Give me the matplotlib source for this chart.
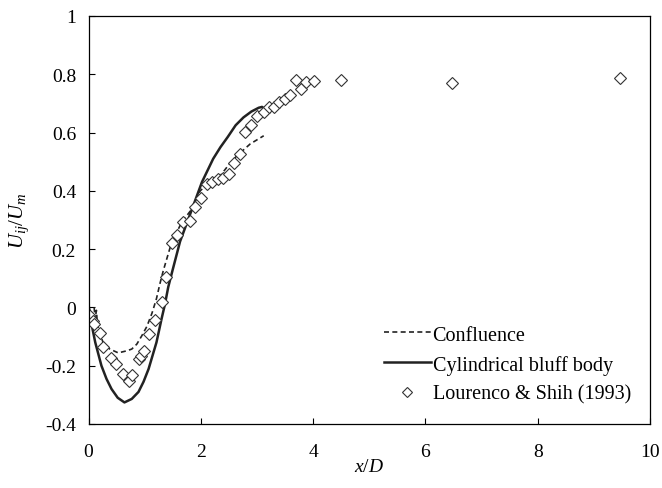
import matplotlib
matplotlib.use("Agg")
import matplotlib.pyplot as plt

# --- data ---
conf_x = [0.10, 0.12, 0.14, 0.16, 0.20, 0.26, 0.38, 0.53, 0.68, 0.77, 0.86, 0.95,
          1.04, 1.13, 1.21, 1.27, 1.33, 1.48, 1.66, 1.81, 1.99, 2.15, 2.34, 2.50,
          2.64, 2.88, 3.12]
conf_y = [0.00, -0.04, -0.01, -0.06, -0.09, -0.12, -0.143, -0.156, -0.149, -0.143,
          -0.126, -0.097, -0.065, -0.02, 0.03, 0.08, 0.125, 0.223, 0.292, 0.33,
          0.40, 0.43, 0.45, 0.49, 0.52, 0.561, 0.589]

cyl_x = [0.00, 0.03, 0.06, 0.12, 0.23, 0.32, 0.41, 0.52, 0.64, 0.77, 0.89, 0.98,
         1.07, 1.21, 1.30, 1.36, 1.42, 1.50, 1.63, 1.81, 2.02, 2.22, 2.35, 2.48,
         2.62, 2.76, 2.90, 3.03, 3.09, 3.13]
cyl_y = [0.01, -0.03, -0.063, -0.12, -0.20, -0.245, -0.28, -0.31, -0.326, -0.314,
         -0.29, -0.255, -0.211, -0.12, -0.04, 0.01, 0.07, 0.13, 0.226, 0.32, 0.43,
         0.51, 0.55, 0.585, 0.625, 0.652, 0.672, 0.685, 0.688, 0.68]

exp_x = [0.00, 0.085, 0.10, 0.20, 0.26, 0.40, 0.49, 0.62, 0.72, 0.77, 0.90, 0.94,
         0.98, 1.08, 1.19, 1.31, 1.38, 1.48, 1.57, 1.69, 1.81, 1.90, 2.01, 2.11,
         2.20, 2.30, 2.40, 2.50, 2.59, 2.69, 2.79, 2.89, 3.00, 3.12, 3.21, 3.31,
         3.40, 3.50, 3.59, 3.70, 3.79, 3.88, 4.01, 4.50, 6.48, 9.47]
exp_y = [-0.025, -0.046, -0.057, -0.089, -0.137, -0.174, -0.194, -0.229, -0.254,
         -0.232, -0.177, -0.168, -0.150, -0.091, -0.042, 0.017, 0.103, 0.221, 0.248,
         0.292, 0.298, 0.343, 0.374, 0.423, 0.429, 0.440, 0.443, 0.458, 0.496, 0.526,
         0.601, 0.626, 0.656, 0.672, 0.687, 0.687, 0.706, 0.715, 0.730, 0.781, 0.750,
         0.775, 0.776, 0.779, 0.769, 0.786]

plt.rcParams["font.family"] = "Liberation Serif"
plt.rcParams["mathtext.fontset"] = "custom"
plt.rcParams["mathtext.rm"] = "Liberation Serif"
plt.rcParams["mathtext.it"] = "Liberation Serif:italic"

fig = plt.figure(figsize=(6.62, 4.89), dpi=100)
ax = fig.add_axes([0.1337, 0.1309, 0.8483, 0.8344])

ax.plot(conf_x, conf_y, color="#222222", lw=1.2, ls=(0, (3, 2)), label="Confluence")
ax.plot(cyl_x, cyl_y, color="#222222", lw=1.8, label="Cylindrical bluff body")
ax.plot(exp_x, exp_y, ls="none", marker="D", ms=6.5, mfc="white", mec="#333333",
        mew=0.8, label="Lourenco & Shih (1993)")

ax.set_xlim(0, 10)
ax.set_ylim(-0.4, 1.0)
ax.set_xticks([0, 2, 4, 6, 8, 10])
ax.set_yticks([-0.4, -0.2, 0, 0.2, 0.4, 0.6, 0.8, 1])
ax.set_yticklabels(["-0.4", "-0.2", "0", "0.2", "0.4", "0.6", "0.8", "1"])
ax.tick_params(direction="in", labelsize=14, length=4.5, width=0.8)
ax.tick_params(axis="x", pad=14)
ax.tick_params(axis="y", pad=9)
for s in ax.spines.values():
    s.set_linewidth(0.9)

ax.set_xlabel("$x/D$", fontsize=14, labelpad=-2)
ax.set_ylabel("$U_{ij}/U_m$", fontsize=15, labelpad=10)

ax.legend(loc="lower right", bbox_to_anchor=(0.998, 0.005), frameon=False, fontsize=14.5,
          handlelength=2.3, handletextpad=0.1, labelspacing=0.5, markerscale=0.75)

fig.savefig("out.png", dpi=100)
